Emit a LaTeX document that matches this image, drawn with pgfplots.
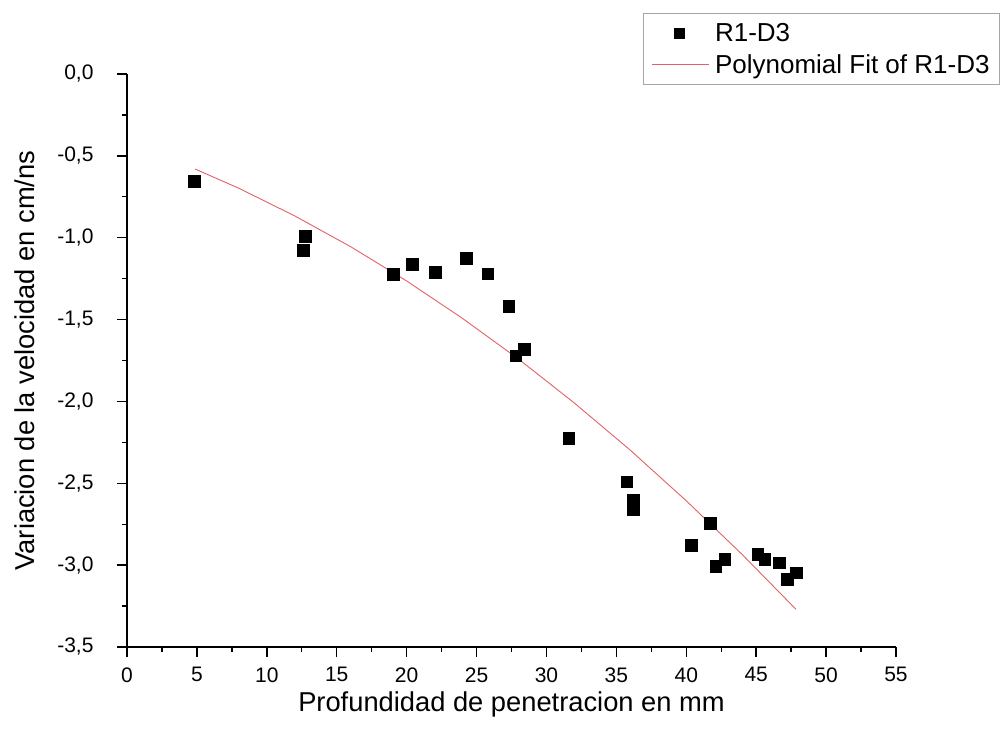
\documentclass[border=0pt]{standalone}
\usepackage{pgfplots}
\pgfplotsset{compat=1.18}
\usepackage{fontspec}
\setmainfont{Liberation Sans}
\definecolor{fitred}{RGB}{228,96,104}
\pgfplotsset{
  markleg/.style={legend image code/.code={\path (0bp,0bp) (57bp,0bp);\path[##1, mark size=5bp] plot[only marks] coordinates {(28bp,0bp)};}},
  lineleg/.style={legend image code/.code={\draw[##1] (0bp,0bp) -- (57bp,0bp);}},
}
\begin{document}
\begin{tikzpicture}
\path[use as bounding box] (-127bp,-86bp) rectangle (874bp,647bp);
\begin{axis}[
  at={(0,0)}, anchor=south west,
  scale only axis, width=769bp, height=573bp,
  xmin=0, xmax=55, ymin=-3.5, ymax=0,
  axis x line*=bottom, axis y line*=left,
  axis line style={-, line width=1.4bp},
  xtick={0,5,...,55}, ytick={-3.5,-3,...,0},
  minor x tick num=1, minor y tick num=1,
  tick align=outside,
  major tick length=10bp, minor tick length=5bp,
  every tick/.style={black, line width=1.4bp},
  tick label style={font=\fontsize{21bp}{24bp}\selectfont},
  /pgf/number format/assume math mode=true,
  yticklabel style={xshift=-20bp, /pgf/number format/.cd, fixed, fixed zerofill, precision=1, use comma},
  xticklabel style={yshift=-7bp, /pgf/number format/.cd, fixed, precision=0},
  xlabel={Profundidad de penetracion en mm},
  ylabel={Variacion de la velocidad en cm/ns},
  label style={font=\fontsize{27.3bp}{31bp}\selectfont},
  xlabel style={at={(axis description cs:0.5,-0.101)}, anchor=center},
  ylabel style={at={(axis description cs:-0.1326,0.5)}, anchor=center, rotate=0},
  clip=false,
  legend style={at={(1.1352,1.106)}, anchor=north east, draw=gray!70, line width=0.8bp,
    font=\fontsize{26bp}{30bp}\selectfont, inner xsep=8bp, inner ysep=8bp,
    row sep=7bp, /tikz/every odd column/.append style={column sep=4bp}},
  legend cell align=left,
]
\addplot[only marks, mark=square*, mark size=5.8bp, black, markleg]
coordinates {
(4.8,-0.654) (12.6,-1.075) (12.75,-0.99) (19.03,-1.222) (20.39,-1.16)
(22.03,-1.21) (24.25,-1.124) (25.8,-1.22) (27.3,-1.417) (27.8,-1.72)
(28.4,-1.68) (31.6,-2.225) (35.75,-2.49) (36.2,-2.60) (36.2,-2.66)
(41.7,-2.745) (40.35,-2.877) (42.1,-3.006) (42.75,-2.965) (45.1,-2.934)
(45.6,-2.965) (46.66,-2.985) (47.2,-3.087) (47.85,-3.046)
};
\addlegendentry{R1-D3}
\addplot[fitred, line width=0.9bp, no marks, lineleg]
coordinates {
(4.86,-0.58) (8,-0.698) (12,-0.867) (16,-1.055) (20,-1.264) (24,-1.493)
(28,-1.741) (32,-2.010) (36,-2.298) (40,-2.607) (44,-2.935) (47.85,-3.27)
};
\addlegendentry{Polynomial Fit of R1-D3}
\end{axis}
\end{tikzpicture}
\end{document}
